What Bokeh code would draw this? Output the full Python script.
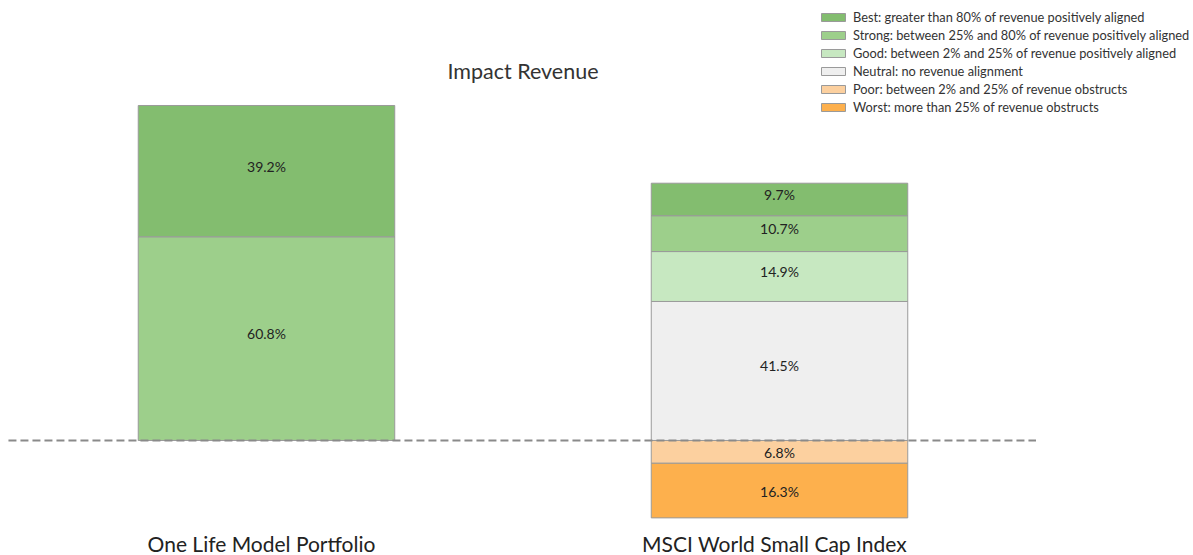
from bokeh.plotting import figure
from bokeh.models import Range1d, ColumnDataSource, Legend, LegendItem
from bokeh.core.properties import value
from bokeh.embed import file_html
from bokeh.resources import INLINE

# ---- data ----
portfolios = ["One Life Model Portfolio", "MSCI World Small Cap Index"]
categories = [
    "Best: greater than 80% of revenue positively aligned",
    "Strong: between 25% and 80% of revenue positively aligned",
    "Good: between 2% and 25% of revenue positively aligned",
    "Neutral: no revenue alignment",
    "Poor: between 2% and 25% of revenue obstructs",
    "Worst: more than 25% of revenue obstructs",
]
best = [39.2, 9.7]
strong = [60.8, 10.7]
good = [0.0, 14.9]
neutral = [0.0, 41.5]
poor = [0.0, 6.8]
worst = [0.0, 16.3]
title_text = "Impact Revenue"

colors = ["#83bd6f", "#9dcf8b", "#c7e8c1", "#efefef", "#fcd09f", "#fdb04d"]

series = [best, strong, good, neutral, poor, worst]
positive_order = [3, 2, 1, 0]   # stacked from baseline upward
negative_order = [4, 5]         # stacked from baseline downward

FONT = "Lato"
xs = [0, 1]
bar_w = 0.5
X0, X1 = -0.5185, 1.807
Y0, Y1 = -34.33, 131.34

p = figure(width=1193, height=555, output_backend="svg", toolbar_location=None,
           x_range=Range1d(X0, X1), y_range=Range1d(Y0, Y1),
           min_border=0, min_border_left=0, min_border_right=0,
           min_border_top=0, min_border_bottom=0)
p.axis.visible = False
p.grid.visible = False
p.outline_line_color = None
p.background_fill_color = "white"

renderers = {}
labels = {1: dict(x=[], y=[], t=[]), -1: dict(x=[], y=[], t=[])}

def add_segments(idx, bottoms, sign):
    vals = series[idx]
    tops = []
    data = dict(x=[], top=[], bottom=[])
    for i, v in enumerate(vals):
        b = bottoms[i]
        t = b + sign * v
        tops.append(t)
        if v > 0:
            data["x"].append(xs[i])
            data["top"].append(max(b, t))
            data["bottom"].append(min(b, t))
            labels[sign]["x"].append(xs[i])
            labels[sign]["y"].append((b + t) / 2)
            labels[sign]["t"].append(f"{v}%")
    r = p.vbar(x="x", top="top", bottom="bottom", width=bar_w,
               source=ColumnDataSource(data), fill_color=colors[idx],
               line_color="#9a9a9a", line_width=1)
    renderers[idx] = r
    return tops

bot = [0.0, 0.0]
for idx in positive_order:
    bot = add_segments(idx, bot, 1)
bot = [0.0, 0.0]
for idx in negative_order:
    bot = add_segments(idx, bot, -1)

# baseline
p.line(x=[-0.503, 1.5], y=[0, 0], line_color="#8a8a8a", line_width=2,
       line_dash="8 4")

# value labels
for sign, off in ((1, -5), (-1, 1)):
    p.text(x=labels[sign]["x"], y=labels[sign]["y"], text=labels[sign]["t"],
           text_align="center", text_baseline="alphabetic",
           text_font=value(FONT), text_font_size="14px",
           text_color="#222222", y_offset=off)

# category labels
p.text(x=xs, y=[Y0, Y0], text=portfolios, text_align="center",
       text_baseline="bottom", text_font=value(FONT), text_font_size="21px",
       text_color="#222222", y_offset=0, x_offset=-5)

# title
p.text(x=[0.5], y=[Y1], text=[title_text], text_align="center",
       text_baseline="top", text_font=value(FONT), text_font_size="21.5px",
       text_color="#333333", y_offset=57)

legend = Legend(items=[LegendItem(label=categories[i], renderers=[renderers[i]])
                       for i in range(6)],
                location=(818, 440), orientation="vertical",
                glyph_width=30, glyph_height=10, label_height=14,
                spacing=2, padding=0, margin=0,
                label_text_font=FONT, label_text_font_size="12.8px",
                label_text_color="#333333", label_standoff=5,
                border_line_color=None, background_fill_alpha=0)
p.add_layout(legend, "center")

open("out.html", "w").write(file_html(p, INLINE))
